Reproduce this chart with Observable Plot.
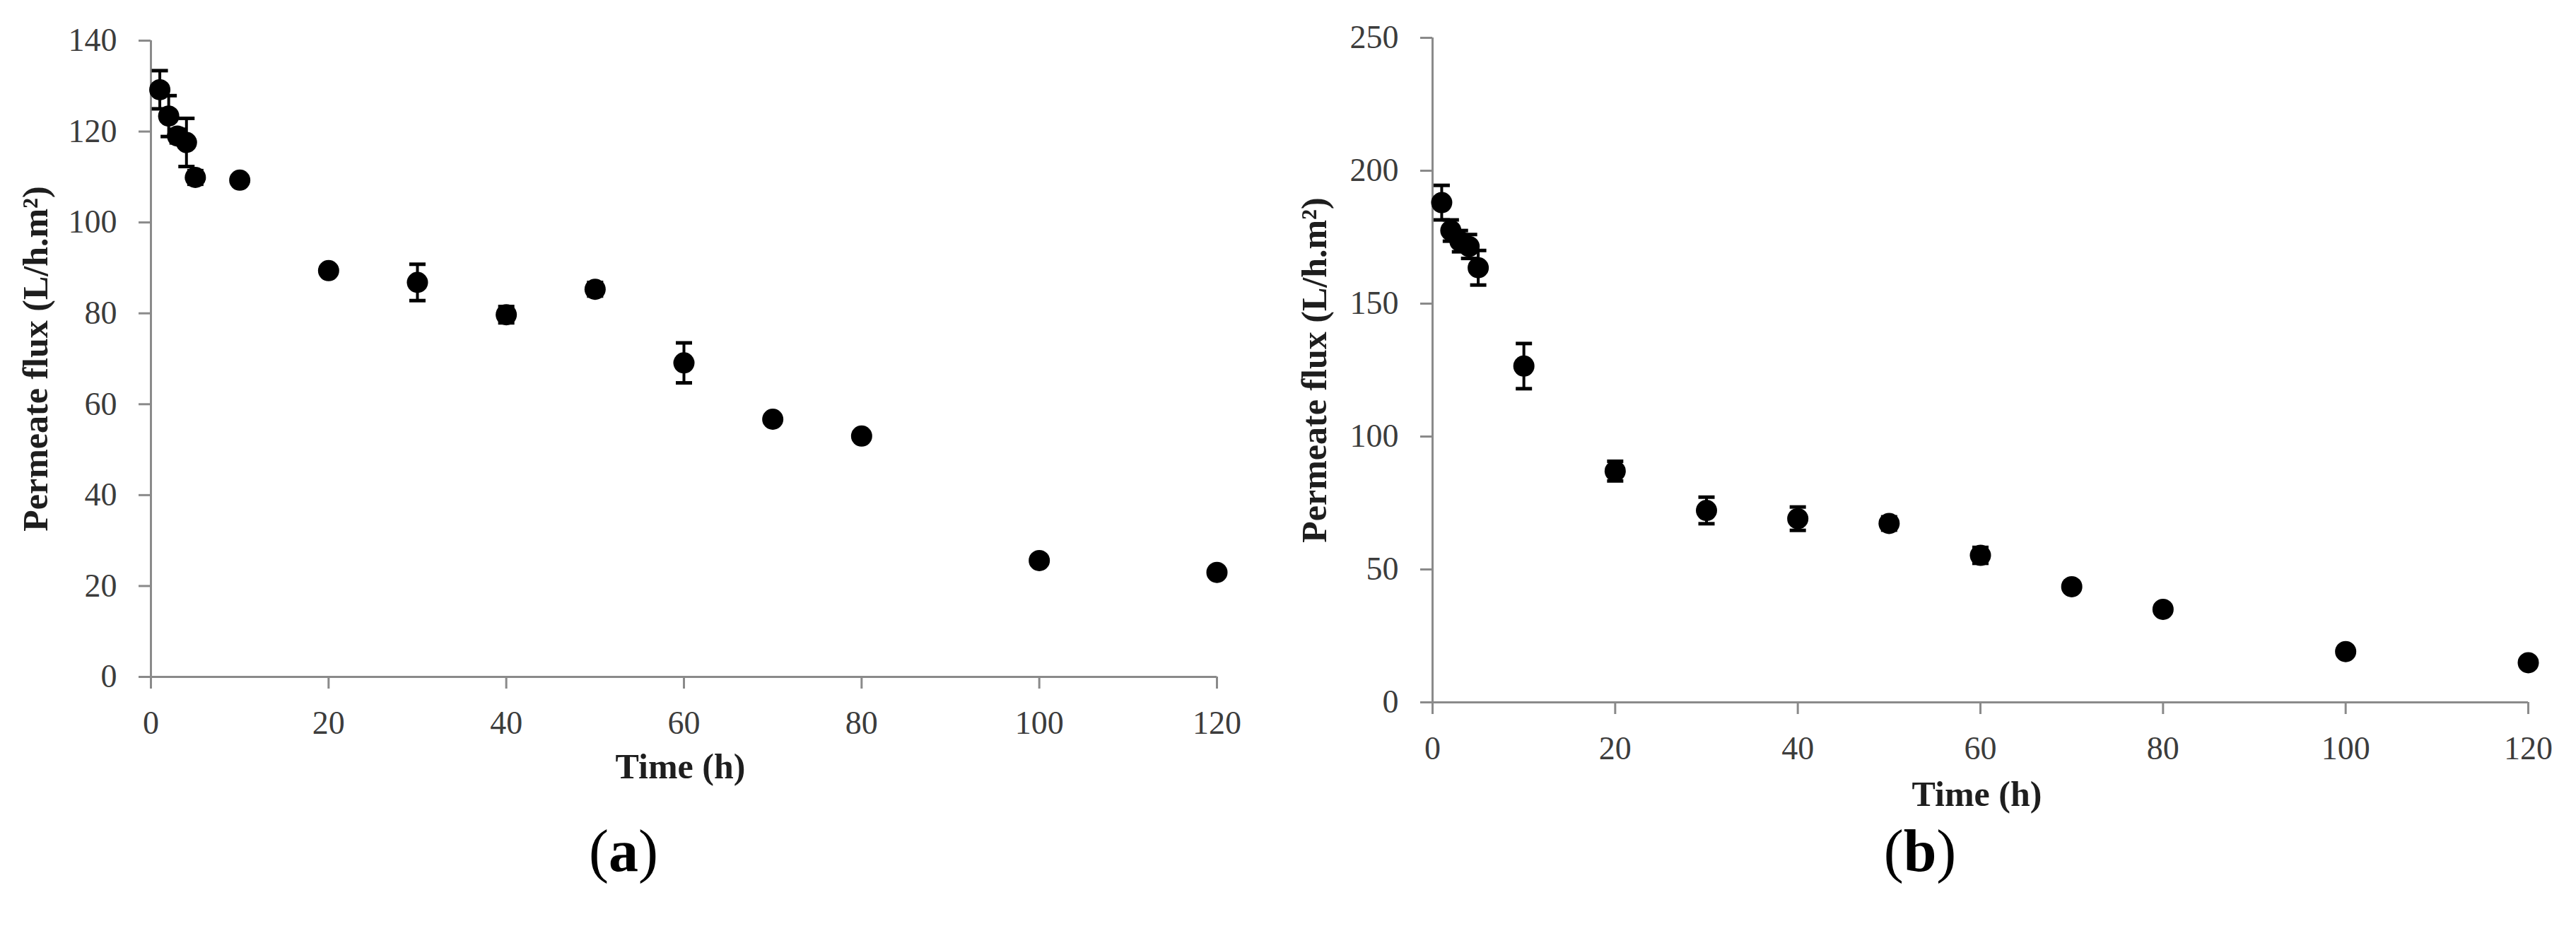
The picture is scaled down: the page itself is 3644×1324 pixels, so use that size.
<!DOCTYPE html>
<html><head><meta charset="utf-8">
<script src="https://cdn.jsdelivr.net/npm/d3@7"></script>
<script src="https://cdn.jsdelivr.net/npm/@observablehq/plot@0.6"></script>
<style>
html,body{margin:0;padding:0;background:#fff;}
#fig{position:relative;width:3644px;height:1324px;overflow:hidden;background:#fff;}
#fig > svg{position:absolute;top:0;}
</style></head><body><div id="fig"></div>
<script>
const timeH = [1, 2, 3, 4, 5, 10, 20, 30, 40, 50, 60, 70, 80, 100, 120];
const fluxA = [129.2, 123.4, 119.0, 117.6, 109.9, 109.3, 89.4, 86.8, 79.7, 85.3, 69.1, 56.7, 53.0, 25.6, 23.0];
const errA  = [4.2, 4.5, 1.5, 5.3, 1.5, 1.0, 1.0, 4.0, 1.8, 1.5, 4.4, 0.8, 0.8, 0.8, 0.5];
const fluxB = [188.0, 177.5, 173.5, 171.5, 163.5, 126.5, 87.0, 72.2, 69.1, 67.3, 55.3, 43.5, 35.0, 19.1, 14.9];
const errB  = [6.5, 4.0, 4.0, 4.5, 6.5, 8.5, 3.7, 5.0, 4.4, 2.5, 3.0, 2.0, 1.0, 0.5, 0.5];
const xTicks = [0, 20, 40, 60, 80, 100, 120];
const yTicksA = [0, 20, 40, 60, 80, 100, 120, 140];
const yTicksB = [0, 50, 100, 150, 200, 250];
const xTitle = "Time (h)";
const yTitle = "Permeate flux (L/h.m²)";
const panelLetters = ["a", "b"];

const axisGray = "#8a8a8a";
const labelGray = "#3c3c3c";
const capSymbol = {draw(ctx, size) { const w = Math.sqrt(size / Math.PI); ctx.moveTo(-w, 0); ctx.lineTo(w, 0); }};

function panel(o) {
  const data = timeH.map((t, i) => ({t, v: o.flux[i], e: o.err[i]}));
  const svg = Plot.plot({
    width: o.width, height: 1324,
    marginLeft: o.ml, marginRight: o.mr, marginTop: o.mt, marginBottom: o.mb,
    style: {background: "transparent", fontFamily: "'Liberation Serif', 'Times New Roman', serif", overflow: "visible"},
    x: {domain: [0, 120]},
    y: {domain: [0, o.yMax]},
    marks: [
      Plot.ruleY([0], {stroke: axisGray, strokeWidth: 3}),
      Plot.ruleX([0], {stroke: axisGray, strokeWidth: 3}),
      Plot.axisX({ticks: xTicks, tickSize: 17, tickPadding: 31, stroke: axisGray, strokeWidth: 3, fill: labelGray, fontSize: 46, label: null, tickFormat: d => String(d)}),
      Plot.axisY({ticks: o.yTicks, tickSize: 17, tickPadding: 31, stroke: axisGray, strokeWidth: 3, fill: labelGray, fontSize: 46, label: null, tickFormat: d => String(d)}),
      Plot.text([xTitle], {text: d => d, frameAnchor: "bottom", textAnchor: "middle", dy: o.xTitleDy, dx: -5, lineAnchor: "bottom", fontSize: 50, fontWeight: "bold", fill: "#1e1e1e"}),
      Plot.text([yTitle], {text: d => d, frameAnchor: "left", textAnchor: "middle", rotate: -90, dx: o.yTitleDx, fontSize: 50, fontWeight: "bold", fill: "#1e1e1e"}),
      Plot.ruleX(data, {x: "t", y1: d => d.v - d.e, y2: d => d.v + d.e, stroke: "black", strokeWidth: 4}),
      Plot.dot(data, {x: "t", y: d => d.v + d.e, symbol: capSymbol, r: 11.5, stroke: "black", strokeWidth: 5, fill: "none"}),
      Plot.dot(data, {x: "t", y: d => d.v - d.e, symbol: capSymbol, r: 11.5, stroke: "black", strokeWidth: 5, fill: "none"}),
      Plot.dot(data, {x: "t", y: "v", r: 15, fill: "black", stroke: "none"})
    ]
  });
  svg.style.left = o.left + "px";
  return svg;
}

const fig = document.getElementById("fig");
fig.appendChild(panel({flux: fluxA, err: errA, yTicks: yTicksA, yMax: 140, left: 0, width: 1800,
  ml: 213, mr: 79, mt: 57, mb: 367, xTitleDy: 143, yTitleDx: -163}));
fig.appendChild(panel({flux: fluxB, err: errB, yTicks: yTicksB, yMax: 250, left: 1822, width: 1822,
  ml: 204, mr: 68, mt: 53, mb: 331, xTitleDy: 146, yTitleDx: -167}));

// panel letters (a), (b) below the charts
const tags = d3.create("svg").attr("width", 3644).attr("height", 1324)
  .style("position", "absolute").style("left", "0px").style("top", "0px");
const tagX = [882, 2716];
panelLetters.forEach((L, i) => {
  const t = tags.append("text").attr("x", tagX[i]).attr("y", 1232)
    .attr("text-anchor", "middle").attr("font-family", "'Liberation Serif', serif")
    .attr("font-size", 84).attr("fill", "#000");
  t.append("tspan").text("(");
  t.append("tspan").attr("font-weight", "bold").text(L);
  t.append("tspan").text(")");
});
fig.appendChild(tags.node());
</script>
</body></html>
